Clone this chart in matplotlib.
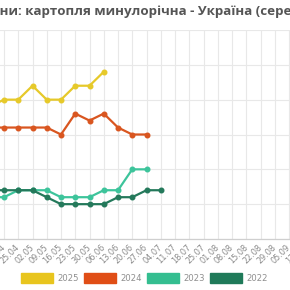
import matplotlib
matplotlib.use("Agg")
import matplotlib.pyplot as plt
from matplotlib.patches import Patch

dates = ["11.04", "18.04", "25.04", "02.05", "09.05", "16.05", "23.05", "30.05",
         "06.06", "13.06", "20.06", "27.06", "04.07", "11.07", "18.07", "25.07",
         "01.08", "08.08", "15.08", "22.08", "29.08", "05.09", "12.09"]

series_names = ["2025", "2024", "2023", "2022"]
y2025 = [19, 20, 20, 22, 20, 20, 22, 22, 24]
y2024 = [16, 16, 16, 16, 16, 15, 18, 17, 18, 16, 15, 15]
y2023 = [6, 6, 7, 7, 7, 6, 6, 6, 7, 7, 10, 10]
y2022 = [7, 7, 7, 7, 6, 5, 5, 5, 5, 6, 6, 7, 7]

line_colors = ["#E6C92A", "#D95620", "#3DC49B", "#24795B"]
patch_colors = ["#E8C51E", "#E04E16", "#34BE90", "#1F7A59"]
title_full = "Ціни: картопля минулорічна - Україна (середні ціни, грн/кг)"
title_prefix = "Ці"

W, H = 290, 290
dpi = 100
fig = plt.figure(figsize=(W / dpi, H / dpi), dpi=dpi)
fig.patch.set_facecolor("white")

# pixel geometry of the (cropped) plot area
step = 14.25
x_first = 4 - step  # pixel x of index 0
x0, x1 = -0.5, 22.5
px_left = x_first + x0 * step
px_right = x_first + x1 * step
top_px, bot_px = 30, 239
ax = fig.add_axes([px_left / W, (H - bot_px) / H, (px_right - px_left) / W, (bot_px - top_px) / H])
ax.set_xlim(x0, x1)
ax.set_ylim(0, 30)

ys = [y2025, y2024, y2023, y2022]
for vals, c in zip(ys, line_colors):
    ax.plot(range(len(vals)), vals, color=c, lw=1.6, marker="o", ms=3.3, mec=c, mfc=c,
            solid_joinstyle="round", zorder=3)

ax.set_xticks(range(len(dates)))
ax.set_xticklabels(dates, rotation=45, ha="right", va="center", rotation_mode="anchor",
                   fontsize=5.9, color="#8a8a8a")
ax.set_yticks([0, 5, 10, 15, 20, 25, 30])
ax.set_yticklabels([])
ax.tick_params(axis="both", length=0)
ax.tick_params(axis="x", pad=5)
ax.grid(True, color="#e8e8e8", lw=0.8)
ax.set_axisbelow(True)
for s in ["top", "left", "right"]:
    ax.spines[s].set_visible(False)
ax.spines["bottom"].set_color("#cfcfcf")
ax.spines["bottom"].set_linewidth(0.9)

handles = [Patch(facecolor=fc, edgecolor=fc, label=n) for fc, n in zip(patch_colors, series_names)]
fig.legend(handles=handles, loc="center", bbox_to_anchor=(144.5 / W, (H - 278) / H),
           ncol=4, frameon=False, fontsize=6.1, labelcolor="#8f8f8f",
           handlelength=3.7, handleheight=1.3, handletextpad=0.5, columnspacing=0.7,
           borderpad=0)

# title, cropped on the left like the reference
fs = 9.6
renderer = fig.canvas.get_renderer()
tmp = fig.text(0, 0, title_prefix, fontsize=fs, fontweight="bold", family="Open Sans")
wpre = tmp.get_window_extent(renderer).width
tmp.remove()
fig.text(-wpre / W, (H - 12) / H, title_full, fontsize=fs, fontweight="bold",
         family="Open Sans", color="#555555", ha="left", va="center")

fig.savefig("out.png", dpi=dpi)
